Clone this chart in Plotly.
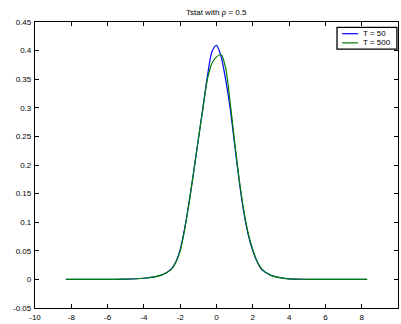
import plotly.graph_objects as go

# Kernel density estimates of the t-statistic (rho = 0.5)
t_grid = [-8.3, -6, -5, -4, -3.5, -3, -2.5, -2.25, -2, -1.75, -1.5, -1.25, -1,
          -0.75, -0.5, -0.25, 0, 0.25, 0.5, 0.75, 1, 1.25, 1.5, 1.75, 2, 2.25,
          2.5, 3, 3.5, 4, 5, 6, 8.3]
dens_T50 = [0, 0, 0.0004, 0.002, 0.004, 0.008, 0.018, 0.030, 0.052, 0.090, 0.137,
            0.190, 0.245, 0.300, 0.355, 0.398, 0.409, 0.390, 0.350, 0.300, 0.236,
            0.172, 0.118, 0.078, 0.050, 0.030, 0.017, 0.007, 0.003, 0.001, 0.0002,
            0, 0]
dens_T500 = [0, 0, 0.0004, 0.002, 0.004, 0.008, 0.017, 0.029, 0.050, 0.088, 0.136,
             0.190, 0.245, 0.298, 0.350, 0.378, 0.389, 0.393, 0.370, 0.310, 0.240,
             0.175, 0.121, 0.080, 0.052, 0.031, 0.018, 0.007, 0.003, 0.001, 0.0002,
             0, 0]
series_names = ["T = 50", "T = 500"]
series_colors = ["#0000ff", "#008000"]

x_ticks = list(range(-10, 11, 2))
x_tick_text = ["-10", "-8", "-6", "-4", "-2", "0", "2", "4", "6", "8", "10"]
y_ticks = [-0.05, 0, 0.05, 0.1, 0.15, 0.2, 0.25, 0.3, 0.35, 0.4, 0.45]
y_tick_text = ["-0.05", "0", "0.05", "0.1", "0.15", "0.2", "0.25", "0.3", "0.35", "0.4", "0.45"]

FONT = "Liberation Sans, Arial, sans-serif"

fig = go.Figure()
for name, ys, col in zip(series_names, [dens_T50, dens_T500], series_colors):
    fig.add_trace(go.Scatter(x=t_grid, y=ys, mode="lines", name=name,
                             line=dict(color=col, width=1.2, shape="spline", smoothing=0.8),
                             showlegend=False))

axis_common = dict(showline=True, linecolor="black", linewidth=1.3, mirror="ticks",
                   ticks="inside", ticklen=4, tickcolor="black", tickwidth=1,
                   showgrid=False, zeroline=False,
                   tickfont=dict(family=FONT, size=8, color="black"))

fig.update_layout(
    width=401, height=324,
    margin=dict(l=35, r=2, t=22, b=12),
    paper_bgcolor="white", plot_bgcolor="white",
    xaxis=dict(range=[-10, 10], tickvals=x_ticks, ticktext=x_tick_text,
               ticklabelstandoff=1, **axis_common),
    yaxis=dict(range=[-0.05, 0.45], tickvals=y_ticks, ticktext=y_tick_text,
               ticklabelstandoff=1, **axis_common),
    showlegend=False,
)

# Title
fig.add_annotation(text="Tstat with \u03c1 = 0.5", xref="paper", yref="paper",
                   x=0.5, y=1.0, yshift=3, xanchor="center", yanchor="bottom",
                   showarrow=False, font=dict(family=FONT, size=8, color="black"))

# Boxed legend in the upper-right corner
fig.add_shape(type="rect", xref="paper", yref="paper", x0=0.832, x1=0.997,
              y0=0.905, y1=0.981, line=dict(color="black", width=1.3),
              fillcolor="white", layer="above")
for yy, name, col in zip([0.959, 0.927], series_names, series_colors):
    fig.add_shape(type="line", xref="paper", yref="paper", x0=0.846, x1=0.890,
                  y0=yy, y1=yy, line=dict(color=col, width=1.2), layer="above")
    fig.add_annotation(text=name, xref="paper", yref="paper", x=0.898, y=yy,
                       xanchor="left", yanchor="middle", showarrow=False,
                       font=dict(family=FONT, size=8, color="black"))

fig.write_html("out.html")
